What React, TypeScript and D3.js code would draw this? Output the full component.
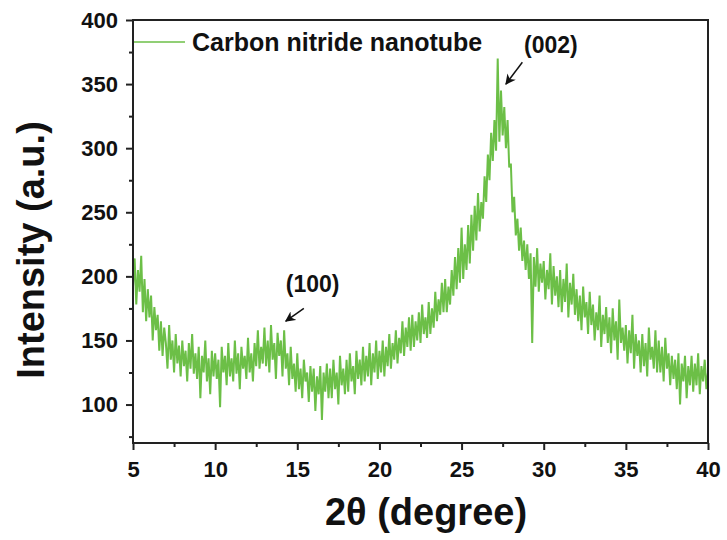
import React, { useEffect, useRef } from "react";
import * as d3 from "d3";

// 2θ from 5.0 to 40.0 in 0.1° steps
const X_START = 5.0;
const X_STEP = 0.1;
const intensity: number[] = [
  // 5
  192, 214, 178, 205, 188, 216, 172, 198, 165, 190,
  // 6
  168, 185, 150, 176, 158, 170, 142, 165, 138, 160,
  // 7
  148, 128, 162, 135, 150, 125, 155, 132, 146, 122,
  // 8
  150, 130, 142, 118, 148, 128, 155, 124, 140, 120,
  // 9
  145, 105, 138, 125, 150, 118, 136, 108, 142, 122,
  // 10
  140, 120, 135, 98, 145, 125, 138, 115, 148, 122,
  // 11
  136, 118, 150, 124, 140, 112, 145, 128, 138, 120,
  // 12
  152, 125, 140, 118, 148, 130, 158, 128, 145, 132,
  // 13
  160, 130, 150, 125, 162, 135, 148, 120, 156, 138,
  // 14
  150, 122, 158, 128, 140, 115, 145, 120, 132, 110,
  // 15
  140, 112, 128, 105, 135, 118, 125, 102, 130, 110,
  // 16
  128, 95, 122, 108, 130, 88, 125, 110, 132, 105,
  // 17
  128, 105, 135, 112, 125, 100, 138, 115, 128, 108,
  // 18
  135, 110, 140, 118, 130, 108, 142, 120, 135, 115,
  // 19
  145, 118, 138, 122, 148, 115, 140, 125, 150, 120,
  // 20
  142, 125, 150, 122, 145, 130, 155, 128, 148, 135,
  // 21
  158, 132, 152, 140, 165, 138, 160, 145, 168, 142,
  // 22
  170, 145, 165, 150, 172, 148, 178, 155, 168, 152,
  // 23
  180, 155, 175, 160, 188, 165, 182, 170, 195, 172,
  // 24
  198, 172, 192, 178, 205, 185, 215, 190, 222, 195,
  // 25
  238, 198, 225, 205, 240, 210, 248, 220, 255, 228,
  // 26
  265, 235, 258, 245, 278, 258, 295, 275, 312, 290,
  // 27
  322, 298, 370, 305, 345, 310, 332, 300, 322, 285,
  // 28
  288, 250, 262, 232, 245, 220, 238, 212, 228, 205,
  // 29
  225, 198, 218, 148, 215, 192, 222, 188, 210, 195,
  // 30
  212, 182, 205, 190, 218, 178, 208, 185, 200, 176,
  // 31
  205, 172, 198, 180, 210, 168, 195, 178, 202, 170,
  // 32
  190, 165, 185, 158, 192, 168, 180, 155, 188, 162,
  // 33
  178, 150, 172, 158, 185, 145, 170, 155, 176, 148,
  // 34
  168, 140, 175, 150, 165, 135, 182, 148, 160, 142,
  // 35
  162, 132, 158, 140, 170, 128, 155, 138, 150, 125,
  // 36
  155, 130, 148, 122, 160, 135, 145, 128, 158, 125,
  // 37
  150, 125, 145, 118, 152, 128, 140, 115, 138, 120,
  // 38
  135, 112, 140, 100, 132, 118, 138, 105, 130, 115,
  // 39
  138, 110, 132, 115, 140, 108, 130, 118, 135, 112,
  // 40
  125,
];

const xMajorTicks = [5, 10, 15, 20, 25, 30, 35, 40];
const xMinorTicks = [7.5, 12.5, 17.5, 22.5, 27.5, 32.5, 37.5];
const yMajorTicks = [100, 150, 200, 250, 300, 350, 400];
const yMinorTicks = [75, 125, 175, 225, 275, 325, 375];

const seriesName = "Carbon nitride nanotube";
const xTitle = "2θ (degree)";
const yTitle = "Intensity (a.u.)";

// annotations: label, arrow head (data), arrow tail (data), label position (data)
const annotationLabels = ["(002)", "(100)"];
const annotationHeads: [number, number][] = [[27.7, 350], [14.3, 165]];
const annotationTails: [number, number][] = [[28.7, 367], [15.4, 175]];
const annotationTextPos: [number, number][] = [[28.8, 374], [14.3, 188]];

const W = 727;
const H = 540;
const M = { left: 133, right: 708, top: 20, bottom: 443 };
const GREEN = "#6cbf47";
const FONT = "'Liberation Sans', Arial, sans-serif";

export default function App() {
  const ref = useRef<SVGSVGElement | null>(null);

  useEffect(() => {
    const svg = d3.select(ref.current);
    svg.selectAll("*").remove();

    const x = d3.scaleLinear().domain([5, 40]).range([M.left, M.right]);
    const y = d3.scaleLinear().domain([70, 400]).range([M.bottom, M.top]);

    const data = intensity.map((v, i) => ({ x: X_START + i * X_STEP, y: v }));

    // data line
    const line = d3
      .line<{ x: number; y: number }>()
      .x((d) => x(d.x))
      .y((d) => y(d.y));
    svg
      .append("path")
      .datum(data)
      .attr("d", line)
      .attr("fill", "none")
      .attr("stroke", GREEN)
      .attr("stroke-width", 2)
      .attr("stroke-linejoin", "miter");

    // frame
    svg
      .append("rect")
      .attr("x", M.left)
      .attr("y", M.top)
      .attr("width", M.right - M.left)
      .attr("height", M.bottom - M.top)
      .attr("fill", "none")
      .attr("stroke", "#222")
      .attr("stroke-width", 2);

    const styleAxis = (g: any) => {
      g.select(".domain").remove();
      g.selectAll(".tick line").attr("stroke", "#222").attr("stroke-width", 2);
      g.selectAll(".tick text")
        .attr("fill", "#111")
        .style("font-family", FONT)
        .style("font-weight", "bold")
        .style("font-size", "22px");
    };

    // x axis
    svg
      .append("g")
      .attr("transform", `translate(0,${M.bottom})`)
      .call(
        d3.axisBottom(x).tickValues(xMajorTicks).tickSize(7).tickPadding(11).tickFormat(d3.format("d"))
      )
      .call(styleAxis);
    svg
      .append("g")
      .attr("transform", `translate(0,${M.bottom})`)
      .call(d3.axisBottom(x).tickValues(xMinorTicks).tickSize(4).tickFormat(() => ""))
      .call(styleAxis);

    // y axis
    svg
      .append("g")
      .attr("transform", `translate(${M.left},0)`)
      .call(d3.axisLeft(y).tickValues(yMajorTicks).tickSize(7).tickPadding(8).tickFormat(d3.format("d")))
      .call(styleAxis);
    svg
      .append("g")
      .attr("transform", `translate(${M.left},0)`)
      .call(d3.axisLeft(y).tickValues(yMinorTicks).tickSize(4).tickFormat(() => ""))
      .call(styleAxis);

    // axis titles
    svg
      .append("text")
      .attr("x", 426)
      .attr("y", 525)
      .attr("text-anchor", "middle")
      .style("font-family", FONT)
      .style("font-weight", "bold")
      .style("font-size", "38px")
      .attr("fill", "#111")
      .text(xTitle);
    svg
      .append("text")
      .attr("transform", `translate(44,250) rotate(-90)`)
      .attr("text-anchor", "middle")
      .style("font-family", FONT)
      .style("font-weight", "bold")
      .style("font-size", "38px")
      .attr("fill", "#111")
      .text(yTitle);

    // legend
    svg
      .append("line")
      .attr("x1", 134)
      .attr("x2", 185)
      .attr("y1", 42)
      .attr("y2", 42)
      .attr("stroke", GREEN)
      .attr("stroke-width", 1.5);
    svg
      .append("text")
      .attr("x", 192)
      .attr("y", 51)
      .style("font-family", FONT)
      .style("font-weight", "bold")
      .style("font-size", "25px")
      .attr("fill", "#111")
      .text(seriesName);

    // annotations
    const defs = svg.append("defs");
    defs
      .append("marker")
      .attr("id", "arrowhead")
      .attr("viewBox", "0 0 10 10")
      .attr("refX", 9)
      .attr("refY", 5)
      .attr("markerWidth", 7)
      .attr("markerHeight", 7)
      .attr("orient", "auto")
      .append("path")
      .attr("d", "M0,0 L10,5 L0,10 L3,5 Z")
      .attr("fill", "#111");

    annotationLabels.forEach((lab, i) => {
      const [hx, hy] = annotationHeads[i];
      const [tx, ty] = annotationTails[i];
      const [lx, ly] = annotationTextPos[i];
      svg
        .append("line")
        .attr("x1", x(tx))
        .attr("y1", y(ty))
        .attr("x2", x(hx))
        .attr("y2", y(hy))
        .attr("stroke", "#111")
        .attr("stroke-width", 1.5)
        .attr("marker-end", "url(#arrowhead)");
      svg
        .append("text")
        .attr("x", x(lx))
        .attr("y", y(ly))
        .style("font-family", FONT)
        .style("font-weight", "bold")
        .style("font-size", "23px")
        .attr("fill", "#111")
        .text(lab);
    });
  }, []);

  return (
    <svg
      ref={ref}
      width={W}
      height={H}
      style={{ position: "absolute", left: 0, top: 0, background: "#fff" }}
    />
  );
}
